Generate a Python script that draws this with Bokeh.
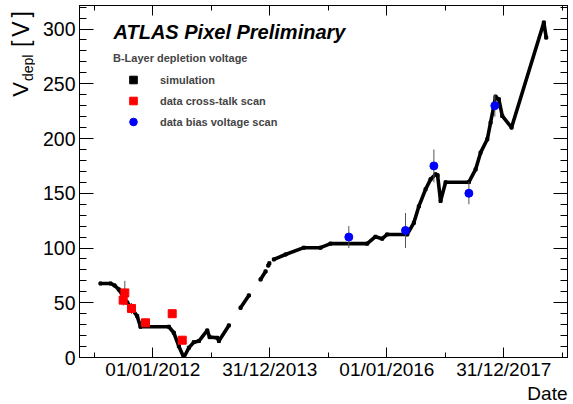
import math
import pandas as pd
from bokeh.plotting import figure
from bokeh.layouts import row, column
from bokeh.models import (Range1d, FixedTicker, DatetimeTickFormatter, LinearAxis,
                          Label, Legend, LegendItem)
from bokeh.embed import file_html
from bokeh.resources import INLINE

# ---------------- data (decimal years, volts) ----------------
sim_a_year = [2011.104, 2011.275, 2011.345, 2011.417, 2011.561, 2011.732, 2011.788, 2012.272, 2012.357,
              2012.443, 2012.528, 2012.614, 2012.699, 2012.785, 2012.928, 2012.968, 2013.099, 2013.127, 2013.297]
sim_a_v = [67.6, 67.6, 65.8, 62.2, 50.3, 37.8, 28.1, 28.1, 22.6,
           10.3, 0.0, 8.9, 14.0, 15.0, 24.7, 18.6, 18.0, 15.0, 29.3]
sim_b_year = [2013.497, 2013.639]
sim_b_v = [45.4, 56.7]
sim_c_year = [2013.839, 2013.925]
sim_c_v = [71.3, 78.6]
sim_d_year = [2013.972, 2013.990]
sim_d_v = [84.0, 86.0]
sim_e_year = [2014.067, 2014.267, 2014.580, 2014.865, 2015.036, 2015.663, 2015.805, 2015.920, 2016.005,
              2016.347, 2016.460, 2016.545, 2016.660, 2016.745, 2016.831, 2016.865, 2016.916, 2017.002,
              2017.400, 2017.515, 2017.600, 2017.715, 2017.771, 2017.827, 2017.856, 2017.913, 2017.971,
              2018.130, 2018.682, 2018.723]
sim_e_v = [89.6, 94.1, 100.3, 100.3, 104.0, 104.0, 110.3, 108.5, 112.4,
           112.4, 123.0, 138.0, 153.6, 162.7, 167.3, 166.4, 142.9, 160.0,
           160.2, 171.8, 187.1, 199.3, 214.5, 229.7, 238.3, 235.8, 220.6,
           210.0, 306.0, 292.2]

xtalk_year = [2011.492, 2011.520, 2011.634, 2011.874, 2012.330, 2012.501]
xtalk_v = [52.4, 59.0, 44.8, 31.7, 40.0, 15.8]
xtalk_err = [5, 11, 5, 2, 2, 2]

bias_year = [2015.349, 2016.318, 2016.802, 2017.400, 2017.844]
bias_v = [110, 116, 175, 150, 230]
bias_err = [10, 16, 15, 10, 10]

major_tick_dates = ["2012-01-01", "2013-12-31", "2016-01-01", "2017-12-31"]
minor_tick_dates = ["2011-01-01", "2013-01-01", "2015-01-01", "2017-01-01", "2019-01-01"]
y_major = [0, 50, 100, 150, 200, 250, 300]
y_minor = list(range(0, 330, 10))
x_start_year, x_end_year = 2010.745, 2019.087
y_start, y_end = 0, 321.5

FONT = "Liberation Sans"
MID = 0.3465  # distance from text middle to baseline, in em


def year_to_ms(y):
    yr = int(math.floor(y))
    a = pd.Timestamp(yr, 1, 1)
    b = pd.Timestamp(yr + 1, 1, 1)
    t = a + (b - a) * (y - yr)
    return t.value / 1e6


def date_to_ms(s):
    return pd.Timestamp(s).value / 1e6


LEFT_W = 35
MAIN_H = 382
STRIP_H = 404 - MAIN_H
FRAME_BOTTOM = 359

p = figure(width=573 - LEFT_W, height=MAIN_H, output_backend="svg", toolbar_location=None,
           x_axis_type="datetime",
           x_range=Range1d(year_to_ms(x_start_year), year_to_ms(x_end_year)),
           y_range=Range1d(y_start, y_end),
           min_border_left=79 - LEFT_W, min_border_right=6, min_border_top=5,
           min_border_bottom=MAIN_H - FRAME_BOTTOM)
p.grid.visible = False
p.outline_line_color = "black"
p.outline_line_width = 1
p.background_fill_color = "white"
p.border_fill_color = "white"

x_major_ms = [date_to_ms(d) for d in major_tick_dates]
x_minor_ms = [date_to_ms(d) for d in minor_tick_dates]
xt = FixedTicker(ticks=x_major_ms, minor_ticks=x_minor_ms)
yt = FixedTicker(ticks=y_major, minor_ticks=y_minor)
fmt = "%d/%m/%Y"
dfmt = DatetimeTickFormatter(microseconds=fmt, milliseconds=fmt, seconds=fmt, minsec=fmt, minutes=fmt,
                             hourmin=fmt, hours=fmt, days=fmt, months=fmt, years=fmt,
                             strip_leading_zeros=False)


def style_axis(ax, tin, tmin, size):
    ax.major_tick_in = tin
    ax.major_tick_out = 0
    ax.minor_tick_in = tmin
    ax.minor_tick_out = 0
    ax.axis_line_color = "black"
    ax.major_tick_line_color = "black"
    ax.minor_tick_line_color = "black"
    ax.major_label_text_font = FONT
    ax.major_label_text_font_size = size
    ax.major_label_text_color = "black"


xa = p.xaxis[0]
xa.ticker = xt
xa.formatter = dfmt
style_axis(xa, 10, 5, "19px")
xa.major_label_standoff = 1

ya = p.yaxis[0]
ya.ticker = yt
style_axis(ya, 14, 7, "19.5px")
ya.major_label_standoff = 4


def mirror_axis(side, positions, length):
    # label-free mirrored ticks: positions given as minor ticks only, so no tick labels exist
    ax = LinearAxis(ticker=FixedTicker(ticks=[], minor_ticks=positions))
    ax.major_tick_in = 0
    ax.major_tick_out = 0
    ax.minor_tick_in = length
    ax.minor_tick_out = 0
    ax.major_label_standoff = 0
    ax.axis_line_color = "black"
    ax.minor_tick_line_color = "black"
    p.add_layout(ax, side)


mirror_axis("above", x_major_ms, 10)
mirror_axis("above", x_minor_ms, 5)
mirror_axis("right", y_major, 14)
mirror_axis("right", y_minor, 7)

# ---------------- simulation curve ----------------
segments = [(sim_a_year, sim_a_v), (sim_b_year, sim_b_v), (sim_c_year, sim_c_v),
            (sim_d_year, sim_d_v), (sim_e_year, sim_e_v)]
all_x, all_v = [], []
for yrs, vs in segments:
    xs = [year_to_ms(y) for y in yrs]
    p.line(xs, vs, line_color="black", line_width=3.6, line_cap="round", line_join="round")
    all_x += xs
    all_v += vs
sim_r = p.scatter(all_x, all_v, marker="square", size=3, color="black")

# ---------------- data points ----------------
xx = [year_to_ms(y) for y in xtalk_year]
p.segment(x0=xx, y0=[v - e for v, e in zip(xtalk_v, xtalk_err)], x1=xx,
          y1=[v + e for v, e in zip(xtalk_v, xtalk_err)], line_color="#555555", line_width=1)
bx = [year_to_ms(y) for y in bias_year]
p.segment(x0=bx, y0=[v - e for v, e in zip(bias_v, bias_err)], x1=bx,
          y1=[v + e for v, e in zip(bias_v, bias_err)], line_color="#555555", line_width=1)
xt_r = p.scatter(xx, xtalk_v, marker="square", size=8, color="#ff0000")
b_r = p.scatter(bx, bias_v, marker="circle", size=8, color="#0000ff")

legend = Legend(items=[LegendItem(label="simulation", renderers=[sim_r]),
                       LegendItem(label="data cross-talk scan", renderers=[xt_r]),
                       LegendItem(label="data bias voltage scan", renderers=[b_r])],
                title="B-Layer depletion voltage", location=(34, 226),
                title_text_font=FONT, title_text_font_size="11px", title_text_font_style="bold",
                label_text_font=FONT, label_text_font_size="11px", label_text_font_style="bold",
                glyph_width=40, glyph_height=19, label_height=19, label_standoff=7, spacing=2,
                padding=0, margin=0, border_line_alpha=0, background_fill_alpha=0, title_standoff=6)
p.add_layout(legend)

# title inside the frame (baseline at canvas y=40, x=113)
p.add_layout(Label(x=113 - 79, y=FRAME_BOTTOM - (40 - MID * 20), x_units="screen", y_units="screen",
                   text="ATLAS Pixel Preliminary",
                   text_font=FONT, text_font_size="20px", text_font_style="bold italic",
                   text_color="black", text_baseline="middle"))

# ---------------- y-axis title strip ----------------
yl = figure(width=LEFT_W, height=MAIN_H, output_backend="svg", toolbar_location=None,
            x_range=Range1d(0, LEFT_W), y_range=Range1d(0, MAIN_H),
            x_axis_location=None, y_axis_location=None, min_border=0)
yl.grid.visible = False
yl.outline_line_color = None


def vlabel(text, base_x, start_y, size):
    # rotated text reading bottom-to-top; base_x = baseline x, start_y = canvas y where it starts
    yl.add_layout(Label(x=base_x - MID * size, y=MAIN_H - start_y, text=text, angle=math.pi / 2,
                        text_font=FONT, text_font_size=f"{size}px", text_align="left",
                        text_baseline="middle", text_color="black"))


vlabel("V", 28, 99, 22)
vlabel("depl", 32, 82, 14)
vlabel("[", 28, 45, 23)
vlabel("V", 28, 34, 23)
vlabel("]", 28, 13, 23)

# ---------------- x-axis title strip ----------------
xl = figure(width=573, height=STRIP_H, output_backend="svg", toolbar_location=None,
            x_range=Range1d(0, 573), y_range=Range1d(0, STRIP_H),
            x_axis_location=None, y_axis_location=None, min_border=0)
xl.grid.visible = False
xl.outline_line_color = None
date_base = 399.5 - MAIN_H  # baseline in strip, from its top
xl.add_layout(Label(x=567, y=STRIP_H - date_base + MID * 19, text="Date",
                    text_font=FONT, text_font_size="19px", text_align="right",
                    text_baseline="middle", text_color="black"))

layout = column(row(yl, p, spacing=0), xl, spacing=0)
open("out.html", "w").write(file_html(layout, INLINE))
